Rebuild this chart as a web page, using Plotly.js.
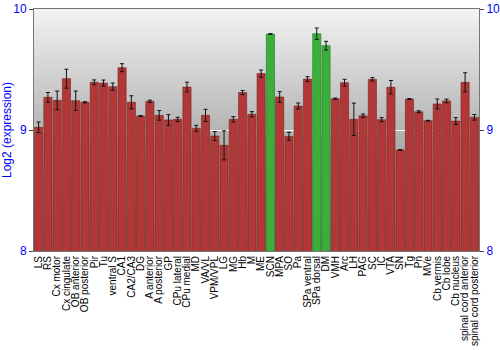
<!DOCTYPE html>
<html>
<head>
<meta charset="utf-8">
<script src="https://cdn.plot.ly/plotly-3.0.1.min.js"></script>
<style>html,body{margin:0;padding:0;background:#fff}#chart{width:500px;height:350px}</style>
</head>
<body>
<div id="chart"></div>
<script>
const regions = ["LS","RS","Cx motor","Cx cingulate","OB anterior","OB posterior","Pir","Tu","ventral S","CA1","CA2/CA3","DG","A anterior","A posterior","GP","CPu lateral","CPu medial","MD","VA/VL","VPM/VPL","LG","MG","Hb","M","ME","SCN","MPA","SO","Pa","SPa ventral","SPa dorsal","DM","VMH","Arc","LH","PAG","SC","IC","VTA","SN","Tg","Pn","MVe","Cb vermis","Cb lobe","Cb nucleus","spinal cord anterior","spinal cord posterior"];
const expression = [9.022,9.27,9.245,9.424,9.242,9.229,9.394,9.388,9.358,9.515,9.229,9.116,9.237,9.121,9.083,9.088,9.355,9.014,9.121,8.95,8.873,9.088,9.31,9.13,9.466,9.793,9.273,8.947,9.198,9.421,9.796,9.697,9.259,9.391,9.088,9.118,9.419,9.085,9.353,8.835,9.256,9.151,9.077,9.215,9.24,9.074,9.394,9.105];
const errors = [0.044,0.04,0.077,0.078,0.08,0.005,0.02,0.025,0.03,0.033,0.054,0.003,0.01,0.04,0.044,0.017,0.04,0.025,0.05,0.037,0.12,0.022,0.017,0.022,0.03,0.003,0.044,0.033,0.025,0.02,0.047,0.036,0.005,0.028,0.134,0.014,0.014,0.017,0.056,0.003,0.004,0.008,0.003,0.041,0.015,0.028,0.079,0.023];
const highlighted = ["SCN","SPa dorsal","DM"];
const yTicks = [8,9,10];

const colors = regions.map(r => highlighted.includes(r) ? '#3cae3c' : '#b23838');
const lineColors = regions.map(r => highlighted.includes(r) ? '#1f7a1f' : '#7a1f1f');

const grad = 'data:image/svg+xml;utf8,' + encodeURIComponent('<svg xmlns="http://www.w3.org/2000/svg" width="10" height="100" preserveAspectRatio="none"><defs><linearGradient id="g" x1="0" y1="0" x2="0" y2="1"><stop offset="0" stop-color="#f3f3f3"/><stop offset="0.6" stop-color="#a8a8a8"/><stop offset="1" stop-color="#8c8c8c"/></linearGradient></defs><rect width="10" height="100" fill="url(#g)"/></svg>');

const trace = {
  type: 'bar',
  x: regions,
  y: expression,
  marker: {color: colors, line: {color: lineColors, width: 0.6}},
  error_y: {type: 'data', array: errors, visible: true, color: '#111', thickness: 1, width: 2},
  hoverinfo: 'x+y'
};

// invisible companion so the right-hand axis is drawn
const rightAxisTrace = {
  type: 'scatter', mode: 'markers', x: regions, y: expression, yaxis: 'y2',
  marker: {opacity: 0, size: 1}, hoverinfo: 'skip', showlegend: false
};

const layout = {
  width: 500, height: 350,
  margin: {l: 34, r: 21, t: 9, b: 99, pad: 0},
  paper_bgcolor: '#ffffff',
  plot_bgcolor: 'rgba(0,0,0,0)',
  showlegend: false,
  bargap: 0.12,
  font: {family: 'Liberation Sans, Arial, sans-serif'},
  images: [{source: grad, xref: 'paper', yref: 'paper', x: 0, y: 1, sizex: 1, sizey: 1, sizing: 'stretch', layer: 'below', xanchor: 'left', yanchor: 'top'}],
  xaxis: {
    type: 'category', range: [-0.5, regions.length - 0.5],
    tickmode: 'array', tickvals: regions, ticktext: regions,
    tickangle: -90, tickfont: {size: 10, color: '#000'},
    showline: true, linecolor: '#777', linewidth: 1, mirror: true,
    ticks: '', showgrid: false, automargin: false, fixedrange: true
  },
  yaxis: {
    range: [8, 10], tickvals: yTicks, ticktext: yTicks.map(String),
    tickfont: {size: 12, color: '#0000ff'}, ticks: 'outside', ticklen: 4, tickcolor: '#444',
    showline: true, linecolor: '#777', linewidth: 1, mirror: true,
    showgrid: true, gridcolor: '#ffffff', gridwidth: 1, zeroline: false,
    title: {text: 'Log2 (expression)', font: {size: 12, color: '#0000ff'}, standoff: 6},
    automargin: false, fixedrange: true
  },
  yaxis2: {
    range: [8, 10], tickvals: yTicks, ticktext: yTicks.map(String),
    overlaying: 'y', side: 'right', anchor: 'x',
    tickfont: {size: 12, color: '#0000ff'}, ticks: 'outside', ticklen: 4, tickcolor: '#444',
    showgrid: false, zeroline: false, showline: false, automargin: false, fixedrange: true
  }
};

Plotly.newPlot('chart', [trace, rightAxisTrace], layout, {displayModeBar: false, staticPlot: true});
</script>
</body>
</html>
